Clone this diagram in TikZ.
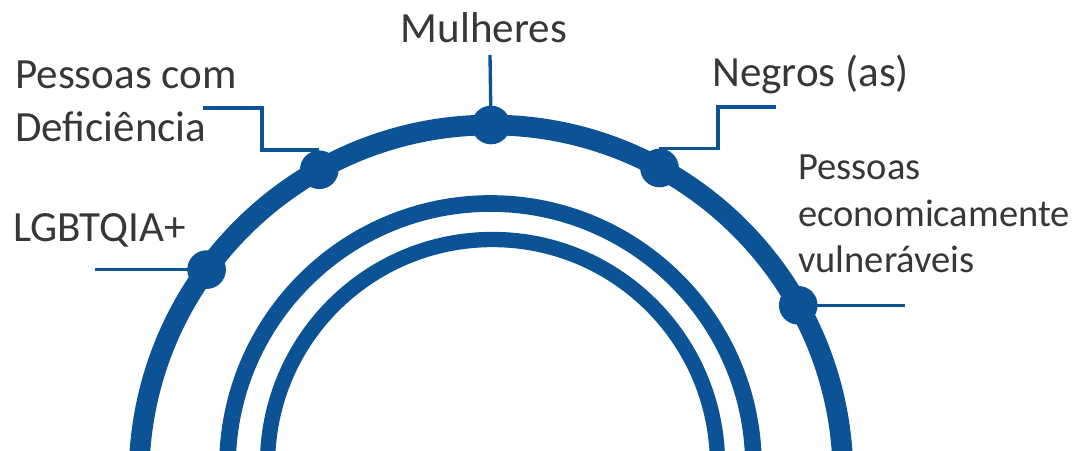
\documentclass[tikz,border=0pt]{standalone}
\usepackage{fontspec}
\setmainfont{Carlito}
\usetikzlibrary{positioning}

\definecolor{ringblue}{RGB}{11,83,148}
\definecolor{labelgray}{RGB}{55,55,55}

\tikzset{
    dot/.style={circle,fill=ringblue,inner sep=0pt,minimum size=29pt},
    link/.style={draw=ringblue,line width=2.5pt},
    biglabel/.style={text=labelgray,inner sep=0pt,font=\fontsize{32.3}{39.75}\selectfont},
    smalllabel/.style={text=labelgray,inner sep=0pt,font=\fontsize{28.9}{35}\selectfont}
}

\begin{document}
\begin{tikzpicture}[x=0.75pt,y=0.75pt]
    \useasboundingbox (0,0) rectangle (1078,450);
    \clip (0,0) rectangle (1078,450);

    \pgfmathsetmacro {\rOut}{352}  %Radius of outer ring
    \pgfmathsetmacro {\rMid}{263}  %Radius of middle ring
    \pgfmathsetmacro {\rIn}{225}   %Radius of inner ring

    %Draw the three rings
    \draw[ringblue,line width=15.5pt]  (491,-27)   circle (\rOut);
    \draw[ringblue,line width=12.5pt]  (490.5,-16.5) circle (\rMid);
    \draw[ringblue,line width=11.5pt]  (492.5,-14.5) circle (\rIn);

    %Dots on the outer ring
    \begin{scope}[shift={(491,-27)}]
        \foreach \nm/\ang in {lgbt/143.9,def/119.2,mul/90,neg/61.4,eco/29.2} {
            \node[dot] (d\nm) at (\ang:\rOut) {};
        }
    \end{scope}

    %Labels (base = last line for the wrapped ones)
    \node[biglabel,anchor=base]      (mulheres) at (484,407) {Mulheres};
    \node[biglabel,anchor=base west,align=left] (deficiencia) at (15,308)
        {Pessoas com\\Deficiência};
    \node[biglabel,anchor=base west] (lgbt) at (13,208) {LGBTQIA+};
    \node[biglabel,anchor=base west] (negros) at (712,363) {Negros (as)};
    \node[smalllabel,anchor=base west,align=left] (economico) at (798,177)
        {Pessoas\\economicamente\\vulneráveis};

    %Free ends of the connectors
    \coordinate (mulTip)  at (490,395);
    \coordinate (defKnee) at (262,342);
    \coordinate (defTip)  at (203,342);
    \coordinate (negKnee) at (718,343);
    \coordinate (negTip)  at (776,343);
    \coordinate (lgbtTip) at (95,180);
    \coordinate (ecoTip)  at (905,145);

    %Connectors
    \draw[link] (dmul.center) -- (mulTip);
    \draw[link] (ddef.north) -| (defKnee) -- (defTip);
    \draw[link] (dneg.north) -| (negKnee) -- (negTip);
    \draw[link] (dlgbt.center) -- (dlgbt.center -| lgbtTip);
    \draw[link] (deco.center) -- (deco.center -| ecoTip);
\end{tikzpicture}
\end{document}
